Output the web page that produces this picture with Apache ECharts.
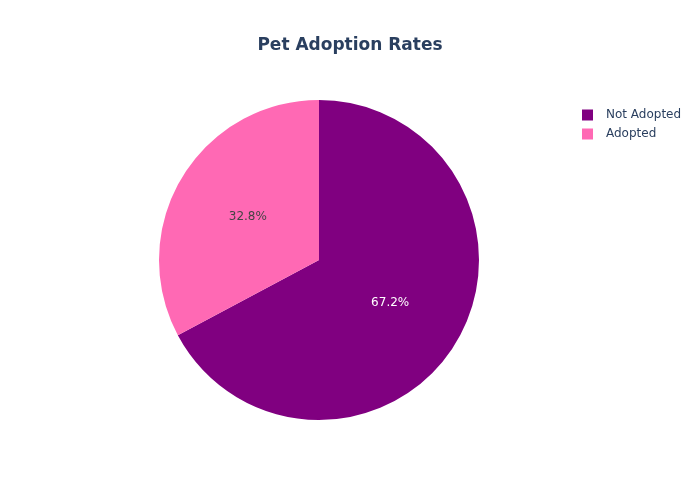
<!DOCTYPE html>
<html>
<head>
    <meta charset="UTF-8">
    <title>Pet Adoption Rates</title>
    <script src="https://cdn.jsdelivr.net/npm/echarts@6/dist/echarts.min.js"></script>
    <style>
        html, body { margin: 0; padding: 0; background: #fff; }
        #chart { width: 700px; height: 500px; }
    </style>
</head>
<body>
<div id="chart"></div>
<script>
    var categories = ['Not Adopted', 'Adopted'];
    var values = [67.2, 32.8];
    var colors = ['#800080', '#ff69b4'];
    var labelColors = ['#ffffff', '#444444'];

    var pieData = categories.map(function (name, i) {
        return {
            name: name,
            value: values[i],
            itemStyle: { color: colors[i] },
            label: { color: labelColors[i] }
        };
    });

    var chart = echarts.init(document.getElementById('chart'));
    chart.setOption({
        animation: false,
        textStyle: { fontFamily: '"DejaVu Sans", sans-serif' },
        title: {
            text: 'Pet Adoption Rates',
            left: 'center',
            top: 32,
            textStyle: {
                fontFamily: '"DejaVu Sans", sans-serif',
                fontSize: 17,
                fontWeight: 'bold',
                color: '#2a3f5f'
            }
        },
        legend: {
            orient: 'vertical',
            left: 582,
            top: 109,
            padding: 0,
            icon: 'rect',
            itemWidth: 11,
            itemHeight: 11,
            itemGap: 7,
            data: categories,
            textStyle: { fontSize: 12, color: '#2a3f5f', padding: [0, 0, 0, 8] }
        },
        series: [{
            type: 'pie',
            center: [319, 260],
            radius: 160,
            startAngle: 90,
            clockwise: true,
            data: pieData,
            label: {
                show: true,
                position: 'inside',
                fontSize: 12,
                formatter: function (p) { return p.value.toFixed(1) + '%'; }
            },
            labelLine: { show: false },
            itemStyle: { borderWidth: 0 },
            emphasis: { disabled: true }
        }]
    });
</script>
</body>
</html>
